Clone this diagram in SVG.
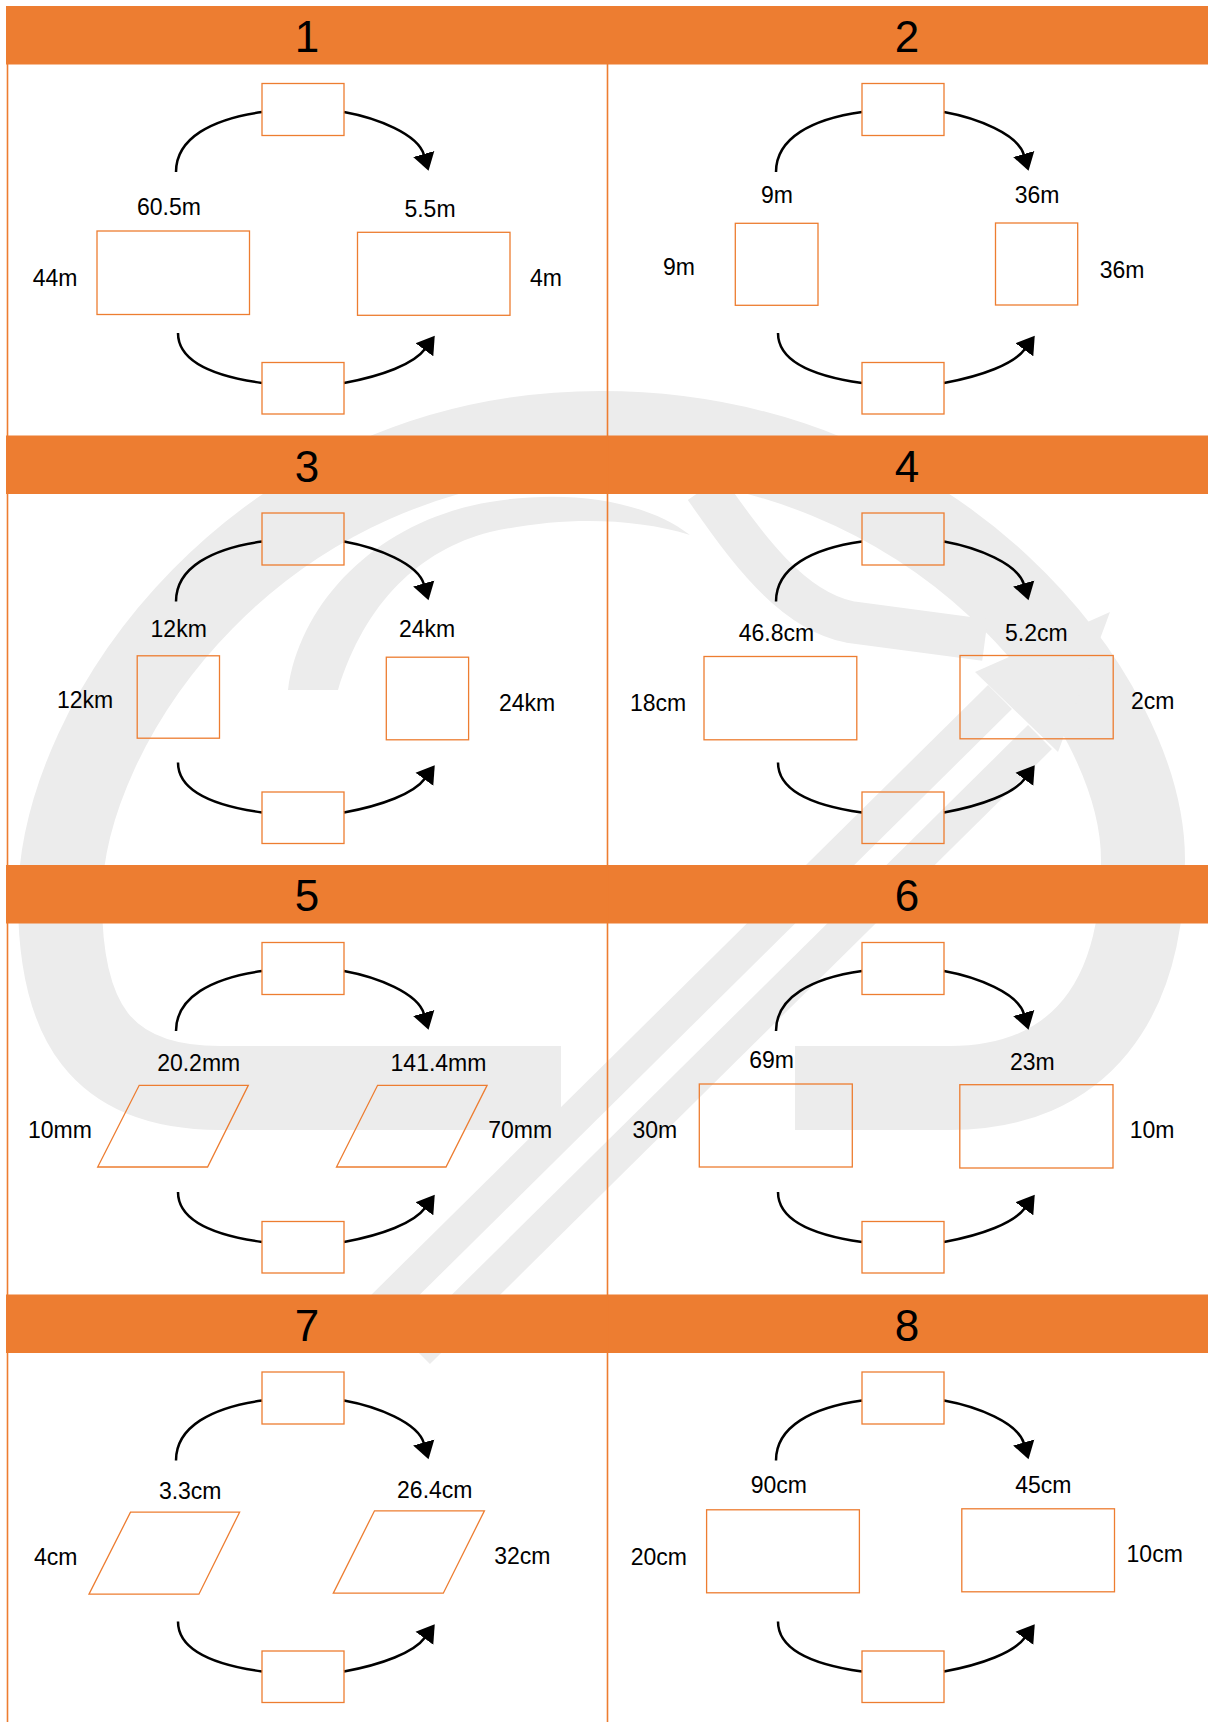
<svg xmlns="http://www.w3.org/2000/svg" width="1208" height="1722" viewBox="0 0 1208 1722">
<style>
.hdr{fill:#ED7D31}
.grid{stroke:#ED7D31;stroke-width:1.6;fill:none}
.num{font-family:"Liberation Sans",Arial,sans-serif;font-size:44px;text-anchor:middle;fill:#000}
.lbl{font-family:"Liberation Sans",Arial,sans-serif;font-size:23px;text-anchor:middle;fill:#000}
.box{fill:none;stroke:#ED7D31;stroke-width:1.3}
.arc{fill:none;stroke:#000;stroke-width:2.5}
.arr{marker-end:url(#ah)}
.wm{fill:#ECECEC}
.wms{fill:none;stroke:#ECECEC}
</style>
<defs>
<marker id="ah" markerUnits="userSpaceOnUse" markerWidth="18" markerHeight="24" viewBox="0 -12 18 24" refX="1" refY="0" orient="auto">
<path d="M0,-11 L17.5,0 L0,11 Z" fill="#000"/>
</marker>
<g id="arcset">
<path class="arc" d="M169,166 C169,132 205,113 255,106"/>
<path class="arc arr" d="M337,106 C370,112 411,128 417,149"/>
<path class="arc" d="M171,327 C171,355 205,370 255,377"/>
<path class="arc arr" d="M337,377 C375,370 407,358 418,343"/>
</g>
</defs>
<rect x="0" y="0" width="1208" height="1722" fill="#fff"/>
<g id="watermark">
<path class="wms" stroke-width="84" d="M561,1088 L220,1088 C100,1088 60,1020 60,900 C60,720 260,433 601,433 C940,433 1143,700 1143,860 C1143,1000 1080,1088 950,1088 L795,1088"/>
<path class="wm" d="M288,690 C300,600 380,520 490,502 C560,490 640,497 690,535 C630,517 560,517 490,532 C420,550 365,602 338,690 Z"/>
<path class="wms" stroke-width="42" d="M705,488 C745,545 790,610 850,622 L985,640"/>
<path class="wms" stroke-width="34" d="M372,1318 L1000,697"/>
<path class="wms" stroke-width="34" d="M418,1352 L1040,737"/>
<path class="wm" d="M975,672 L1110,612 L1058,752 Z"/>
</g>
<g id="headers">
<rect class="hdr" x="6" y="6" width="1202" height="58.5"/>
<rect class="hdr" x="6" y="435.5" width="1202" height="58.5"/>
<rect class="hdr" x="6" y="865" width="1202" height="58.5"/>
<rect class="hdr" x="6" y="1294.5" width="1202" height="58.5"/>
<text class="num" x="307" y="52">1</text>
<text class="num" x="907" y="52">2</text>
<text class="num" x="307" y="481.5">3</text>
<text class="num" x="907" y="481.5">4</text>
<text class="num" x="307" y="911">5</text>
<text class="num" x="907" y="911">6</text>
<text class="num" x="307" y="1340.5">7</text>
<text class="num" x="907" y="1340.5">8</text>
</g>
<g id="grid">
<line class="grid" x1="7.5" y1="64" x2="7.5" y2="1722"/>
<line class="grid" x1="607.5" y1="64" x2="607.5" y2="1722"/>
</g>
<g id="connectors">
<use href="#arcset" transform="translate(7,6)"/>
<use href="#arcset" transform="translate(607,6)"/>
<use href="#arcset" transform="translate(7,435.5)"/>
<use href="#arcset" transform="translate(607,435.5)"/>
<use href="#arcset" transform="translate(7,865)"/>
<use href="#arcset" transform="translate(607,865)"/>
<use href="#arcset" transform="translate(7,1294.5)"/>
<use href="#arcset" transform="translate(607,1294.5)"/>
</g>
<g id="panel1" transform="translate(7,6)">
<g id="p1-top"><rect class="box" x="255" y="77.5" width="82" height="52"/></g>
<g id="p1-bottom"><rect class="box" x="255" y="356.5" width="82" height="51.5"/></g>
<g id="p1-left"><rect class="box" x="90" y="225" width="152.5" height="83.5"/><text class="lbl" x="162" y="209">60.5m</text><text class="lbl" x="48" y="280">44m</text></g>
<g id="p1-right"><rect class="box" x="350.5" y="226.3" width="152.5" height="83"/><text class="lbl" x="423" y="210.7">5.5m</text><text class="lbl" x="539" y="280">4m</text></g>
</g>
<g id="panel2" transform="translate(607,6)">
<g id="p2-top"><rect class="box" x="255" y="77.5" width="82" height="52"/></g>
<g id="p2-bottom"><rect class="box" x="255" y="356.5" width="82" height="51.5"/></g>
<g id="p2-left"><rect class="box" x="128.3" y="217.3" width="82.7" height="82"/><text class="lbl" x="170" y="197">9m</text><text class="lbl" x="72" y="269">9m</text></g>
<g id="p2-right"><rect class="box" x="388.5" y="217" width="82.2" height="82"/><text class="lbl" x="430" y="197">36m</text><text class="lbl" x="515" y="271.7">36m</text></g>
</g>
<g id="panel3" transform="translate(7,435.5)">
<g id="p3-top"><rect class="box" x="255" y="77.5" width="82" height="52"/></g>
<g id="p3-bottom"><rect class="box" x="255" y="356.5" width="82" height="51.5"/></g>
<g id="p3-left"><rect class="box" x="130.2" y="220.3" width="82.3" height="82.4"/><text class="lbl" x="171.7" y="201">12km</text><text class="lbl" x="78" y="272.3">12km</text></g>
<g id="p3-right"><rect class="box" x="379.3" y="221.7" width="82.3" height="82.6"/><text class="lbl" x="420" y="201.7">24km</text><text class="lbl" x="520" y="275.7">24km</text></g>
</g>
<g id="panel4" transform="translate(607,435.5)">
<g id="p4-top"><rect class="box" x="255" y="77.5" width="82" height="52"/></g>
<g id="p4-bottom"><rect class="box" x="255" y="356.5" width="82" height="51.5"/></g>
<g id="p4-left"><rect class="box" x="97" y="221" width="152.8" height="83.3"/><text class="lbl" x="169.4" y="205">46.8cm</text><text class="lbl" x="51" y="275">18cm</text></g>
<g id="p4-right"><rect class="box" x="353" y="220" width="153.2" height="83.3"/><text class="lbl" x="429.4" y="205">5.2cm</text><text class="lbl" x="545.7" y="273">2cm</text></g>
</g>
<g id="panel5" transform="translate(7,865)">
<g id="p5-top"><rect class="box" x="255" y="77.5" width="82" height="52"/></g>
<g id="p5-bottom"><rect class="box" x="255" y="356.5" width="82" height="51.5"/></g>
<g id="p5-left"><polygon class="box" points="132.2,220.3 241.3,220.3 200.6,302 90.7,302"/><text class="lbl" x="191.7" y="205.7">20.2mm</text><text class="lbl" x="52.9" y="272.7">10mm</text></g>
<g id="p5-right"><polygon class="box" points="370.6,220.3 480.1,220.3 439,302 329.5,302"/><text class="lbl" x="431.5" y="205.7">141.4mm</text><text class="lbl" x="513.2" y="272.7">70mm</text></g>
</g>
<g id="panel6" transform="translate(607,865)">
<g id="p6-top"><rect class="box" x="255" y="77.5" width="82" height="52"/></g>
<g id="p6-bottom"><rect class="box" x="255" y="356.5" width="82" height="51.5"/></g>
<g id="p6-left"><rect class="box" x="92.3" y="219" width="153" height="83"/><text class="lbl" x="164.6" y="203.3">69m</text><text class="lbl" x="47.9" y="272.7">30m</text></g>
<g id="p6-right"><rect class="box" x="352.8" y="219.7" width="153.2" height="83.3"/><text class="lbl" x="425.3" y="205">23m</text><text class="lbl" x="545" y="272.7">10m</text></g>
</g>
<g id="panel7" transform="translate(7,1294.5)">
<g id="p7-top"><rect class="box" x="255" y="77.5" width="82" height="52"/></g>
<g id="p7-bottom"><rect class="box" x="255" y="356.5" width="82" height="51.5"/></g>
<g id="p7-left"><polygon class="box" points="123.5,217.7 232.6,217.7 191.9,299.7 82,299.7"/><text class="lbl" x="183.2" y="204.3">3.3cm</text><text class="lbl" x="48.8" y="270">4cm</text></g>
<g id="p7-right"><polygon class="box" points="367.5,216.3 477.4,216.3 436.3,298.7 326.3,298.7"/><text class="lbl" x="427.8" y="203.3">26.4cm</text><text class="lbl" x="515.4" y="269">32cm</text></g>
</g>
<g id="panel8" transform="translate(607,1294.5)">
<g id="p8-top"><rect class="box" x="255" y="77.5" width="82" height="52"/></g>
<g id="p8-bottom"><rect class="box" x="255" y="356.5" width="82" height="51.5"/></g>
<g id="p8-left"><rect class="box" x="99.6" y="215.3" width="152.8" height="83"/><text class="lbl" x="171.9" y="198.3">90cm</text><text class="lbl" x="51.9" y="270">20cm</text></g>
<g id="p8-right"><rect class="box" x="354.8" y="214.3" width="152.7" height="83"/><text class="lbl" x="436.4" y="198.3">45cm</text><text class="lbl" x="547.7" y="267.7">10cm</text></g>
</g>
</svg>
